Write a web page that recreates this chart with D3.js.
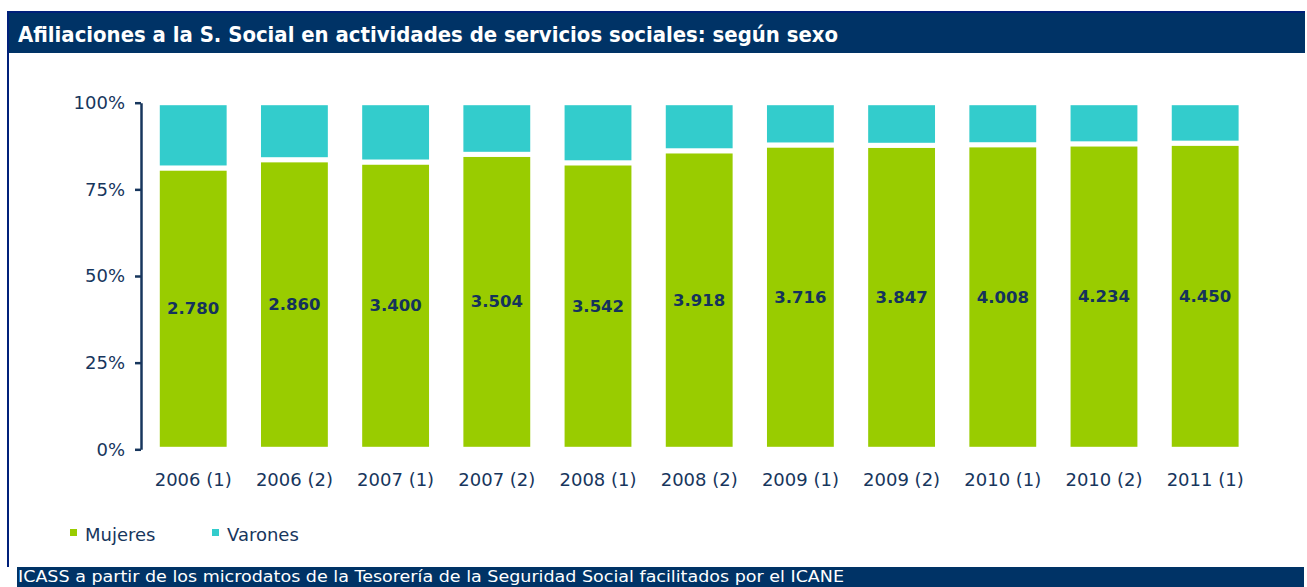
<!DOCTYPE html>
<html>
<head>
<meta charset="utf-8">
<script src="https://cdn.jsdelivr.net/npm/d3@7"></script>
<style>
  html, body { margin: 0; padding: 0; background: #fff; }
  svg { display: block; }
</style>
</head>
<body>
<svg id="chart" width="1307" height="587"></svg>
<script>
const categories = ["2006 (1)", "2006 (2)", "2007 (1)", "2007 (2)", "2008 (1)", "2008 (2)", "2009 (1)", "2009 (2)", "2010 (1)", "2010 (2)", "2011 (1)"];
const mujeres = [2780, 2860, 3400, 3504, 3542, 3918, 3716, 3847, 4008, 4234, 4450];
const varones = [645, 563, 702, 613, 743, 631, 516, 539, 553, 570, 588];
const seriesNames = ["Mujeres", "Varones"];
const seriesColors = ["#99CC00", "#33CCCC"];
const yTicks = [0, 0.25, 0.5, 0.75, 1];

const titleText = "Afiliaciones a la S. Social en actividades de servicios sociales: según sexo";
const footerText = "ICASS a partir de los microdatos de la Tesorería de la Seguridad Social facilitados por el ICANE";

const navy = "#003366";
const textNavy = "#17365D";
const font = "'DejaVu Sans', sans-serif";

const svg = d3.select("#chart");

// Frame and title bar
svg.append("rect").attr("x", 7).attr("y", 11).attr("width", 1298).attr("height", 2).attr("fill", "#00207a");
svg.append("rect").attr("x", 7).attr("y", 11).attr("width", 2).attr("height", 556).attr("fill", "#00207a");
svg.append("rect").attr("x", 9).attr("y", 13).attr("width", 1296).attr("height", 40).attr("fill", navy);
svg.append("text")
  .attr("x", 18).attr("y", 42)
  .attr("fill", "#fff")
  .attr("font-family", font)
  .attr("font-weight", "bold")
  .attr("font-size", 21)
  .attr("textLength", 820)
  .attr("lengthAdjust", "spacingAndGlyphs")
  .text(titleText);

// Footer
svg.append("rect").attr("x", 17).attr("y", 567).attr("width", 1287).attr("height", 20).attr("fill", navy);
svg.append("text")
  .attr("x", 18).attr("y", 582)
  .attr("fill", "#fff")
  .attr("font-family", font)
  .attr("font-size", 16)
  .attr("textLength", 826)
  .attr("lengthAdjust", "spacingAndGlyphs")
  .text(footerText);

// Data table
const table = categories.map((c, i) => ({ cat: c, Mujeres: mujeres[i], Varones: varones[i] }));
const stack = d3.stack().keys(seriesNames).offset(d3.stackOffsetExpand);
const stacked = stack(table);

const x = d3.scaleBand().domain(categories).range([141, 1257.4]).paddingInner(0.29).paddingOuter(0.161);
const y = d3.scaleLinear().domain([0, 1]).range([449.3, 102.7]);

// Bars
const groups = svg.append("g").selectAll("g").data(stacked).join("g")
  .attr("fill", (d, i) => seriesColors[i]);
groups.selectAll("rect").data(d => d).join("rect")
  .attr("x", d => x(d.data.cat))
  .attr("width", x.bandwidth())
  .attr("y", d => y(d[1]))
  .attr("height", d => y(d[0]) - y(d[1]))
  .attr("stroke", "#fff")
  .attr("stroke-width", 5);

// Value labels (Mujeres)
const locale = d3.formatLocale({ decimal: ",", thousands: ".", grouping: [3], currency: ["", " €"] });
const fmt = locale.format(",d");
svg.append("g").selectAll("text").data(stacked[0]).join("text")
  .attr("x", d => x(d.data.cat) + x.bandwidth() / 2)
  .attr("y", d => (y(d[0]) + y(d[1])) / 2)
  .attr("text-anchor", "middle")
  .attr("dominant-baseline", "central")
  .attr("font-family", font)
  .attr("font-weight", "bold")
  .attr("font-size", 16.5)
  .attr("fill", "#14325c")
  .text(d => fmt(d.data.Mujeres));

// Y axis
const yAxis = svg.append("g")
  .attr("transform", "translate(141,0)")
  .call(d3.axisLeft(y).tickValues(yTicks).tickFormat(d3.format(".0%")).tickSize(6).tickSizeOuter(0).tickPadding(10));
yAxis.select(".domain").attr("stroke", textNavy).attr("stroke-width", 2.5);
yAxis.selectAll(".tick line").attr("stroke", textNavy).attr("stroke-width", 2.5);
yAxis.selectAll(".tick text")
  .attr("font-family", font).attr("font-size", 18).attr("fill", textNavy);

// X axis labels
const xAxis = svg.append("g")
  .attr("transform", "translate(0,449.3)")
  .call(d3.axisBottom(x).tickSize(0).tickPadding(24));
xAxis.select(".domain").remove();
xAxis.selectAll(".tick text")
  .attr("font-family", font).attr("font-size", 18).attr("fill", textNavy);

// Legend
const legendX = [70, 212];
const legend = svg.append("g").selectAll("g").data(seriesNames).join("g")
  .attr("transform", (d, i) => `translate(${legendX[i]},529)`);
legend.append("rect").attr("width", 7).attr("height", 7).attr("fill", (d, i) => seriesColors[i]);
legend.append("text")
  .attr("x", 15).attr("y", 11.5)
  .attr("font-family", font).attr("font-size", 18).attr("fill", textNavy)
  .text(d => d);
</script>
</body>
</html>
